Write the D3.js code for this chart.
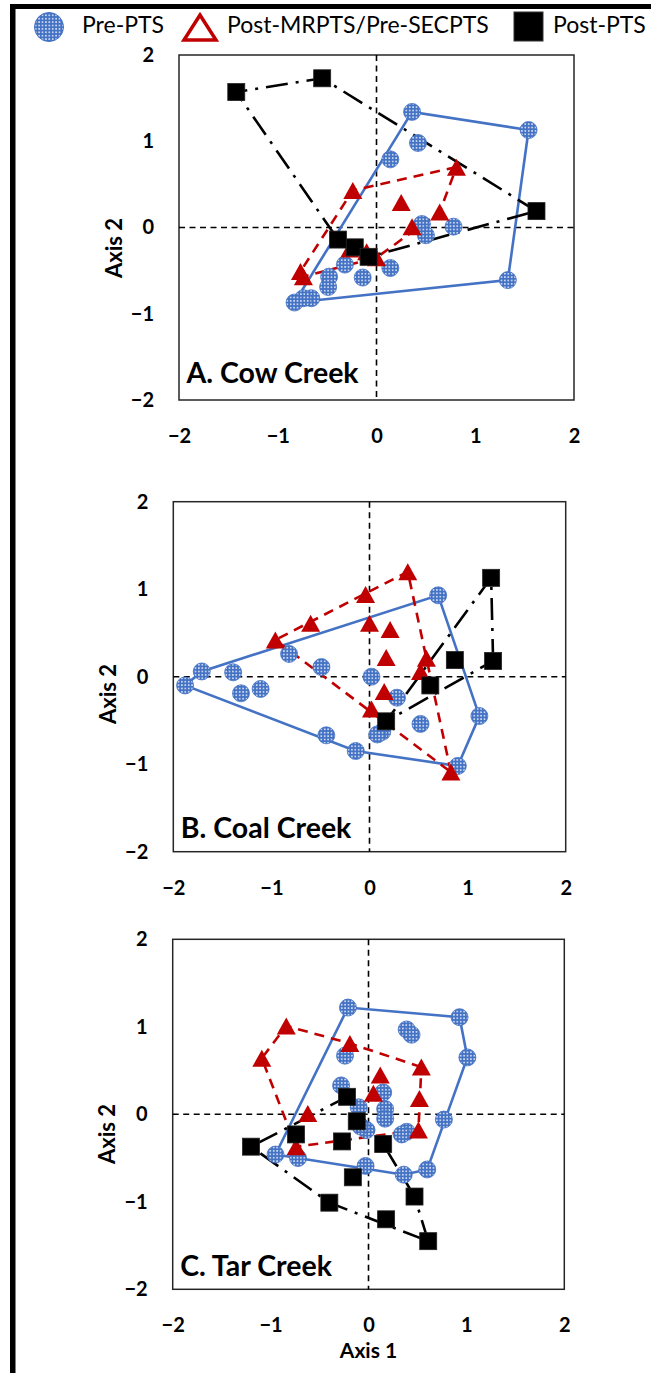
<!DOCTYPE html>
<html><head><meta charset="utf-8">
<script src="https://cdn.jsdelivr.net/npm/d3@7"></script>
<style>body{margin:0;background:#fff} svg{display:block}</style>
</head><body><svg id="c" width="651" height="1373"></svg>
<script>
// ---------- data ----------
const seriesNames = ["Pre-PTS", "Post-MRPTS/Pre-SECPTS", "Post-PTS"];
const panelTitles = ["A. Cow Creek", "B. Coal Creek", "C. Tar Creek"];
const tickValues = [-2, -1, 0, 1, 2];
const axisXTitle = "Axis 1";
const axisYTitle = "Axis 2";

const cowPre = [[0.36,1.34],[1.54,1.13],[0.42,0.98],[0.14,0.79],[0.46,0.04],[0.50,-0.09],[0.78,0.01],[1.33,-0.61],[0.14,-0.47],[-0.14,-0.58],[-0.32,-0.43],[-0.48,-0.57],[-0.49,-0.69],[-0.66,-0.82],[-0.74,-0.82],[-0.83,-0.87]];
const cowMid = [[-0.24,0.43],[0.81,0.70],[0.25,0.29],[0.64,0.18],[0.36,0.01],[-0.10,-0.28],[0.00,-0.35],[-0.27,-0.25],[-0.77,-0.51],[-0.74,-0.57]];
const cowPost = [[-1.42,1.57],[-0.55,1.73],[1.62,0.19],[-0.39,-0.14],[-0.22,-0.23],[-0.08,-0.34]];

const coalPre = [[-1.88,-0.10],[-1.71,0.06],[-1.39,0.05],[-1.31,-0.19],[-1.11,-0.14],[-0.82,0.26],[-0.49,0.11],[-0.44,-0.67],[-0.14,-0.85],[0.02,0.00],[0.70,0.93],[0.28,-0.24],[0.52,-0.54],[0.13,-0.63],[0.08,-0.66],[1.12,-0.45],[0.90,-1.02]];
const coalMid = [[0.39,1.20],[-0.04,0.94],[-0.60,0.61],[-0.96,0.42],[0.00,0.61],[0.21,0.54],[0.17,0.22],[0.58,0.21],[0.52,0.06],[0.15,-0.17],[0.02,-0.37],[0.83,-1.09]];
const coalPost = [[1.24,1.13],[0.87,0.19],[1.26,0.18],[0.62,-0.10],[0.17,-0.51]];

const tarPre = [[-0.21,1.22],[0.93,1.11],[0.39,0.97],[0.44,0.91],[1.01,0.65],[-0.24,0.67],[-0.28,0.33],[0.15,0.25],[-0.10,0.08],[0.17,0.06],[0.17,-0.05],[0.77,-0.06],[-0.02,-0.18],[-0.08,-0.14],[0.39,-0.20],[0.34,-0.23],[-0.95,-0.46],[-0.72,-0.50],[-0.03,-0.59],[0.36,-0.69],[0.60,-0.63]];
const tarMid = [[-0.84,1.01],[-1.09,0.64],[-0.19,0.81],[0.54,0.54],[0.12,0.45],[0.05,0.24],[0.52,0.18],[-0.62,0.01],[0.51,-0.18],[-0.74,-0.37]];
const tarPost = [[-0.22,0.20],[-0.12,-0.08],[-0.74,-0.23],[-0.27,-0.31],[0.15,-0.34],[-1.20,-0.37],[-0.16,-0.72],[0.47,-0.94],[-0.40,-1.01],[0.18,-1.20],[0.61,-1.45]];

// ---------- layout ----------
const BLUE = "#4472C4", RED = "#C00000", BLACK = "#000000";
const FONT = "Lato, 'Open Sans', sans-serif";
const panels = [
  {pre: cowPre, mid: cowMid, post: cowPost, title: panelTitles[0], l: 179, r: 574, t: 55, b: 400, ty: 248, titleBase: 383, xTitle: false},
  {pre: coalPre, mid: coalMid, post: coalPost, title: panelTitles[1], l: 173.3, r: 565.7, t: 501.7, b: 851.7, ty: 694, titleBase: 838, xTitle: false},
  {pre: tarPre, mid: tarMid, post: tarPost, title: panelTitles[2], l: 172.7, r: 564.3, t: 939.3, b: 1289.3, ty: 1134, titleBase: 1276, xTitle: true}
];

const svg = d3.select("#c");
const defs = svg.append("defs");
const pat = defs.append("pattern").attr("id", "dots").attr("patternUnits", "userSpaceOnUse")
  .attr("width", 3.4).attr("height", 3.4);
pat.append("rect").attr("width", 3.4).attr("height", 3.4).attr("fill", BLUE);
pat.append("circle").attr("cx", 1.7).attr("cy", 1.7).attr("r", 0.8).attr("fill", "#ffffff");

// frame borders
svg.append("rect").attr("x", 10).attr("y", 4).attr("width", 641).attr("height", 5).attr("fill", "#000");
svg.append("rect").attr("x", 10).attr("y", 4).attr("width", 5.5).attr("height", 1369).attr("fill", "#000");

// legend
const lg = svg.append("g").attr("font-family", FONT).attr("font-size", 23).attr("fill", "#000");
lg.append("circle").attr("cx", 49).attr("cy", 27).attr("r", 14.5).attr("fill", "url(#dots)").attr("stroke", BLUE).attr("stroke-width", 1);
lg.append("text").attr("x", 82).attr("y", 32.5).text(seriesNames[0]);
lg.append("path").attr("d", "M184,40 L216,40 L200,15 Z").attr("fill", "#fff").attr("stroke", RED).attr("stroke-width", 3.5).attr("stroke-linejoin", "miter");
lg.append("text").attr("x", 227).attr("y", 32.5).text(seriesNames[1]);
lg.append("rect").attr("x", 514).attr("y", 12).attr("width", 29).attr("height", 29).attr("fill", BLACK).attr("stroke", "#333").attr("stroke-width", 1);
lg.append("text").attr("x", 553).attr("y", 32.5).text(seriesNames[2]);

const closedLine = d3.line().curve(d3.curveLinearClosed);
const triPath = "M-9.5,8.5 L9.5,8.5 L0,-8.5 Z";

panels.forEach(p => {
  const x = d3.scaleLinear().domain([-2, 2]).range([p.l, p.r]);
  const y = d3.scaleLinear().domain([-2, 2]).range([p.b, p.t]);
  const g = svg.append("g");

  // box
  g.append("rect").attr("x", p.l).attr("y", p.t).attr("width", p.r - p.l).attr("height", p.b - p.t)
    .attr("fill", "none").attr("stroke", "#262626").attr("stroke-width", 1.5);
  // zero lines
  g.append("line").attr("x1", x(0)).attr("x2", x(0)).attr("y1", p.t).attr("y2", p.b)
    .attr("stroke", "#000").attr("stroke-width", 1.6).attr("stroke-dasharray", "6,4.5");
  g.append("line").attr("x1", p.l).attr("x2", p.r).attr("y1", y(0)).attr("y2", y(0))
    .attr("stroke", "#000").attr("stroke-width", 1.6).attr("stroke-dasharray", "6,4.5");

  // axes (labels only)
  const ax = g.append("g").attr("transform", `translate(0,${p.b})`)
    .call(d3.axisBottom(x).tickValues(tickValues).tickSize(0).tickPadding(29).tickFormat(d3.format("d")));
  const ay = g.append("g").attr("transform", `translate(${p.l},0)`)
    .call(d3.axisLeft(y).tickValues(tickValues).tickSize(0).tickPadding(25).tickFormat(d3.format("d")));
  [ax, ay].forEach(a => {
    a.select(".domain").remove();
    a.selectAll("text").attr("font-family", FONT).attr("font-size", 20).attr("font-weight", "bold").attr("fill", "#000");
  });

  // axis titles
  g.append("text").attr("transform", `translate(${p.l - 65},${p.ty}) rotate(-90)`)
    .attr("text-anchor", "middle").attr("dy", "0.35em")
    .attr("font-family", FONT).attr("font-size", 22).attr("font-weight", "bold").text(axisYTitle);
  if (p.xTitle) {
    g.append("text").attr("x", (p.l + p.r) / 2).attr("y", p.b + 61).attr("dy", "0.35em")
      .attr("text-anchor", "middle").attr("font-family", FONT).attr("font-size", 21).attr("font-weight", "bold").text(axisXTitle);
  }

  // hulls
  const hull = pts => d3.polygonHull(pts.map(d => [x(d[0]), y(d[1])]));
  g.append("path").attr("d", closedLine(hull(p.pre))).attr("fill", "none").attr("stroke", BLUE).attr("stroke-width", 2.6);
  g.append("path").attr("d", closedLine(hull(p.mid))).attr("fill", "none").attr("stroke", RED).attr("stroke-width", 2.6).attr("stroke-dasharray", "10,7");
  g.append("path").attr("d", closedLine(hull(p.post))).attr("fill", "none").attr("stroke", BLACK).attr("stroke-width", 2.6).attr("stroke-dasharray", "22,8,3,8");

  // markers
  g.selectAll(".pre").data(p.pre).join("circle").attr("class", "pre")
    .attr("cx", d => x(d[0])).attr("cy", d => y(d[1])).attr("r", 8.5)
    .attr("fill", "url(#dots)").attr("stroke", BLUE).attr("stroke-width", 0.8);
  g.selectAll(".mid").data(p.mid).join("path").attr("class", "mid")
    .attr("d", triPath).attr("transform", d => `translate(${x(d[0])},${y(d[1])})`)
    .attr("fill", RED);
  g.selectAll(".post").data(p.post).join("rect").attr("class", "post")
    .attr("x", d => x(d[0]) - 8.5).attr("y", d => y(d[1]) - 8.5).attr("width", 17).attr("height", 17)
    .attr("fill", BLACK).attr("stroke", "#222").attr("stroke-width", 0.8);

  // panel title
  g.append("text").attr("x", p.l + 7.5).attr("y", p.titleBase)
    .attr("font-family", FONT).attr("font-size", 28.5).attr("font-weight", "bold").text(p.title);
});
</script></body></html>
